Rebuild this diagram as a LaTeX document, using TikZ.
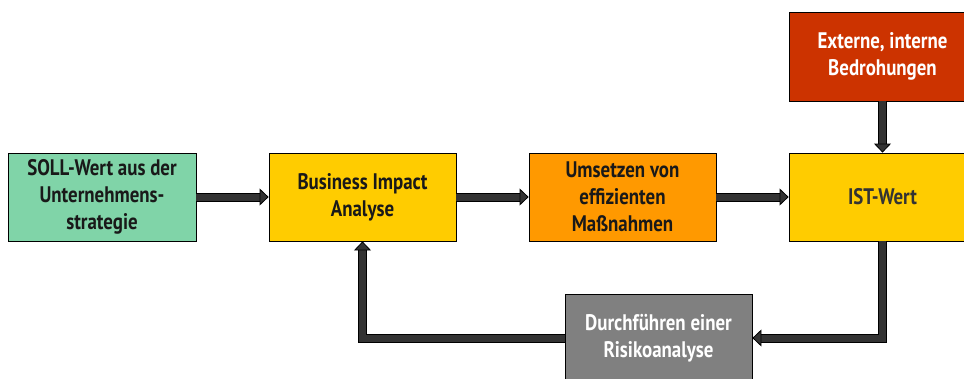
\documentclass[tikz,border=0pt]{standalone}
\usepackage{fontspec}
\setmainfont{PT Sans}[FakeStretch=0.84]
\usetikzlibrary{arrows.meta}
\definecolor{sollgreen}{HTML}{80D4A8}
\definecolor{biayellow}{HTML}{FFCC00}
\definecolor{umsorange}{HTML}{FF9900}
\definecolor{extred}{HTML}{CC3300}
\definecolor{durchgray}{HTML}{808080}
\definecolor{arrowgray}{HTML}{333333}
\begin{document}
\begin{tikzpicture}[x=1pt,y=-1pt,
  box/.style={draw=black, line width=0.8pt, minimum width=187pt, minimum height=88pt,
    inner sep=0pt, align=center, font=\fontsize{22.5}{27}\selectfont\bfseries, text=black!90},
  fat/.style={draw=arrowgray, line width=7pt, line join=miter,
    -{Triangle[length=9pt,width=17pt,line width=0.8pt,color=black,fill=arrowgray]},
    preaction={draw=black, line width=9pt, -, shorten >=8.5pt}}]
\useasboundingbox (0,0) rectangle (964,378);
\clip (0,0) rectangle (964,378);
\node[box, fill=sollgreen, minimum width=188pt] (soll) at (102,197) {SOLL-Wert aus der\\Unternehmens-\\strategie};
\node[box, fill=biayellow] (bia) at (362.5,197) {Business Impact\\Analyse};
\node[box, fill=umsorange] (ums) at (622.5,197) {Umsetzen von\\effizienten\\Maßnahmen};
\node[box, fill=biayellow, text=black!80] (ist) at (882.5,197) {IST-Wert};
\node[box, fill=extred, text=white, minimum height=89pt] (ext) at (882.5,56.5) {Externe, interne\\Bedrohungen};
\node[box, fill=durchgray, text=white] (durch) at (658.5,338) {Durchführen einer\\Risikoanalyse};
\draw[fat] (soll.east) -- (bia.west);
\draw[fat] (bia.east) -- (ums.west);
\draw[fat] (ums.east) -- (ist.west);
\draw[fat] (ext.south) -- (ist.north);
\draw[fat] (ist.south) |- (durch.east);
\draw[fat] (durch.west) -| (bia.south);
\end{tikzpicture}
\end{document}
